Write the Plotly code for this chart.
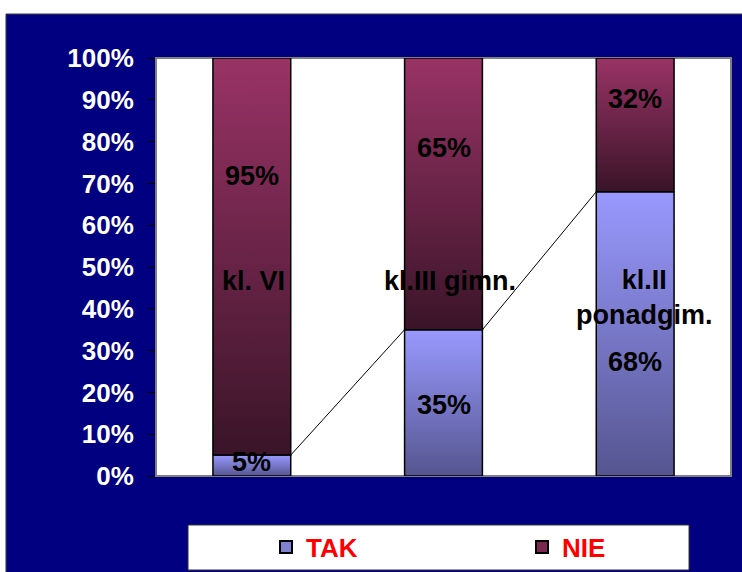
import plotly.graph_objects as go

categories = ["kl. VI", "kl.III gimn.", "kl.II<br>ponadgim."]
tak = [5, 35, 68]
nie = [95, 65, 32]

# where the value/category labels sit inside the bars (axis units, %)
tak_label_y = [3.3, 17, 27.3]
nie_label_y = [71.8, 78.5, 90.2]
cat_label_y = [46.7, 46.7, 42.6]
cat_label_dx = [0.01, 0.035, 0.05]

NAVY = "#000080"
FONT = "Arial, Liberation Sans, sans-serif"
HW = 0.203  # half bar width in category units

tak_scale = [[0, "#555590"], [1, "#9999ff"]]
nie_scale = [[0, "#3a1428"], [1, "#993366"]]

fig = go.Figure()

# series lines joining the tops of the TAK segments
for i in range(len(tak) - 1):
    fig.add_trace(go.Scatter(
        x=[i + HW, i + 1 - HW], y=[tak[i], tak[i + 1]],
        mode="lines", line=dict(color="black", width=1),
        showlegend=False, hoverinfo="skip",
    ))


def add_segment(i, base, val, scale):
    fig.add_trace(go.Scatter(
        x=[i - HW, i + HW, i + HW, i - HW, i - HW],
        y=[base, base, base + val, base + val, base],
        mode="lines", fill="toself",
        fillgradient=dict(type="vertical", colorscale=scale),
        line=dict(color="black", width=1.5),
        showlegend=False, hoverinfo="skip",
    ))


for i in range(len(categories)):
    add_segment(i, 0, tak[i], tak_scale)
    add_segment(i, tak[i], nie[i], nie_scale)

# legend entries (one legend each so they can be spread out like the original)
fig.add_trace(go.Bar(x=[None], y=[None], name="TAK", legend="legend",
                     marker=dict(color="#8080d0", line=dict(color="black", width=2))))
fig.add_trace(go.Bar(x=[None], y=[None], name="NIE", legend="legend2",
                     marker=dict(color="#7a2850", line=dict(color="black", width=2))))

label_font = dict(family=FONT, size=27, color="black", weight="bold")
for i in range(len(categories)):
    fig.add_annotation(x=i, y=tak_label_y[i], text=f"{tak[i]}%", showarrow=False, font=label_font)
    fig.add_annotation(x=i, y=nie_label_y[i], text=f"{nie[i]}%", showarrow=False, font=label_font)
    fig.add_annotation(x=i + cat_label_dx[i], y=cat_label_y[i], text=categories[i],
                       showarrow=False, font=label_font)

shapes = [
    # navy frame
    dict(type="rect", xref="paper", yref="paper", x0=-0.2609, x1=1.05, y0=-0.25, y1=1.1053,
         fillcolor=NAVY, line=dict(color="#404040", width=1), layer="below"),
    # plot area
    dict(type="rect", xref="paper", yref="paper", x0=0, x1=1, y0=0, y1=1,
         fillcolor="white", line=dict(color="#808080", width=2), layer="below"),
    # legend box
    dict(type="rect", xref="paper", yref="paper", x0=0.0557, x1=0.927, y0=-0.2249, y1=-0.1172,
         fillcolor="white", line=dict(color="#333333", width=1), layer="below"),
]

legend_font = dict(family=FONT, size=26, color="red", weight="bold")
fig.update_layout(
    width=742, height=572,
    margin=dict(l=156, r=11, t=58, b=96, autoexpand=False),
    paper_bgcolor="white", plot_bgcolor="rgba(0,0,0,0)",
    shapes=shapes,
    showlegend=True,
    legend=dict(orientation="h", x=0.1913, xanchor="left", y=-0.17, yanchor="middle",
                bgcolor="rgba(0,0,0,0)", font=legend_font),
    legend2=dict(orientation="h", x=0.6365, xanchor="left", y=-0.17, yanchor="middle",
                 bgcolor="rgba(0,0,0,0)", font=legend_font),
    xaxis=dict(range=[-0.5, 2.5], showticklabels=False, ticks="", showgrid=False,
               zeroline=False, showline=False, fixedrange=True),
    yaxis=dict(range=[0, 100], dtick=10, ticksuffix="%", showgrid=False, zeroline=False,
               showline=False, ticks="outside", ticklen=8, tickcolor="black", tickwidth=1,
               ticklabelstandoff=8, fixedrange=True,
               tickfont=dict(family=FONT, size=26, color="white", weight="bold")),
)

fig.write_html("out.html", config={"displayModeBar": False},
               post_script="document.body.style.margin='0';"
                           "document.body.style.overflow='hidden';")
